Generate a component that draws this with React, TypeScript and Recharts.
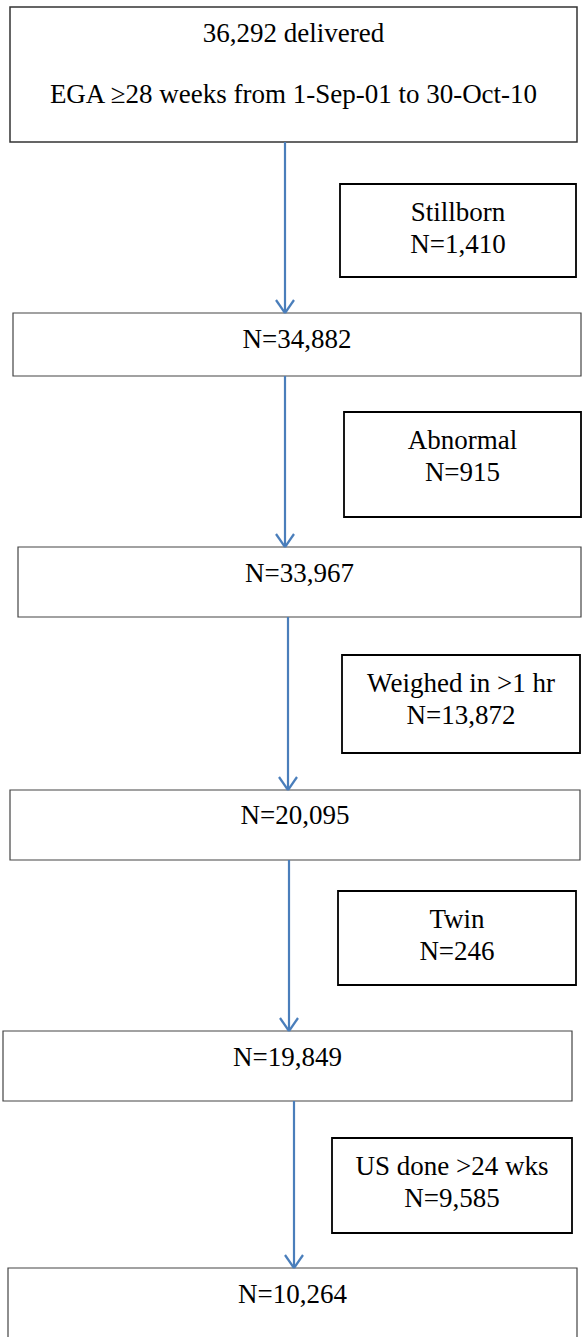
import React from 'react';
import { ComposedChart, XAxis, YAxis, ReferenceArea, ReferenceLine } from 'recharts';

// ---- content values ----
const startTotal = 36292;
const startCriteria = 'EGA \u226528 weeks from 1-Sep-01 to 30-Oct-10';
const remainingCounts = [34882, 33967, 20095, 19849, 10264];
const exclusionLabels = ['Stillborn', 'Abnormal', 'Weighed in >1 hr', 'Twin', 'US done >24 wks'];
const exclusionCounts = [1410, 915, 13872, 246, 9585];

// ---- layout (data units = page pixels) ----
const mainX1 = [10, 13, 18, 10, 3, 8];
const mainX2 = [577, 581, 581, 580, 572, 577];
const mainY1 = [7, 313, 547, 790, 1031, 1268];
const mainY2 = [142, 376, 617, 860, 1101, 1345];
const sideX1 = [340, 344, 342, 338, 332];
const sideX2 = [576, 581, 580, 576, 572];
const sideY1 = [184, 412, 655, 891, 1138];
const sideY2 = [277, 517, 753, 985, 1233];
const arrowX = [285, 285, 288, 289, 294];

const W = 582;
const H = 1337;
const FONT = '"Liberation Serif", "Times New Roman", serif';
const ARROW = '#4a7ebb';

const fmt = (n: number) => n.toLocaleString('en-US');

const makeLabel = (lines: string[], baselines: number[]) => (props: any) => {
  const vb = props.viewBox || {};
  const cx = vb.x + vb.width / 2;
  return (
    <g>
      {lines.map((t, i) => (
        <text
          key={i}
          x={cx}
          y={vb.y + baselines[i]}
          textAnchor="middle"
          fontFamily={FONT}
          fontSize={27}
          fill="#000"
        >
          {t}
        </text>
      ))}
    </g>
  );
};

export default function App() {
  const mainLines: string[][] = [
    [`${fmt(startTotal)} delivered`, startCriteria],
    ...remainingCounts.map((c) => [`N=${fmt(c)}`]),
  ];
  const mainBaselines: number[][] = [[35, 96], [35], [35], [34], [35], [35]];

  return (
    <div style={{ width: W, height: H, background: '#fff' }}>
      <style>{`body{margin:0;background:#fff}`}</style>
      <ComposedChart width={W} height={H} data={[]} margin={{ top: 0, right: 0, bottom: 0, left: 0 }}>
        <XAxis type="number" dataKey="x" domain={[0, W]} hide allowDataOverflow />
        <YAxis type="number" dataKey="y" domain={[0, H]} reversed hide allowDataOverflow />

        {arrowX.map((ax, i) => (
          <ReferenceLine
            key={`a${i}`}
            segment={[{ x: ax, y: mainY2[i] }, { x: ax, y: mainY1[i + 1] }]}
            stroke={ARROW}
            strokeWidth={2.2}
            ifOverflow="visible"
          />
        ))}
        {arrowX.map((ax, i) => (
          <ReferenceLine
            key={`wl${i}`}
            segment={[{ x: ax - 9, y: mainY1[i + 1] - 13 }, { x: ax, y: mainY1[i + 1] }]}
            stroke={ARROW}
            strokeWidth={2.2}
            ifOverflow="visible"
          />
        ))}
        {arrowX.map((ax, i) => (
          <ReferenceLine
            key={`wr${i}`}
            segment={[{ x: ax + 9, y: mainY1[i + 1] - 13 }, { x: ax, y: mainY1[i + 1] }]}
            stroke={ARROW}
            strokeWidth={2.2}
            ifOverflow="visible"
          />
        ))}

        {mainLines.map((lines, i) => (
          <ReferenceArea
            key={`m${i}`}
            x1={mainX1[i]}
            x2={mainX2[i]}
            y1={mainY1[i]}
            y2={mainY2[i]}
            fill="#fff"
            fillOpacity={0}
            stroke={i === 0 ? '#333' : '#444'}
            strokeWidth={i === 0 ? 1.5 : 1.2}
            ifOverflow="visible"
            label={makeLabel(lines, mainBaselines[i])}
          />
        ))}

        {exclusionLabels.map((lab, i) => (
          <ReferenceArea
            key={`s${i}`}
            x1={sideX1[i]}
            x2={sideX2[i]}
            y1={sideY1[i]}
            y2={sideY2[i]}
            fill="#fff"
            fillOpacity={1}
            stroke="#000"
            strokeWidth={1.8}
            ifOverflow="visible"
            label={makeLabel([lab, `N=${fmt(exclusionCounts[i])}`], [37, 69])}
          />
        ))}
      </ComposedChart>
    </div>
  );
}
